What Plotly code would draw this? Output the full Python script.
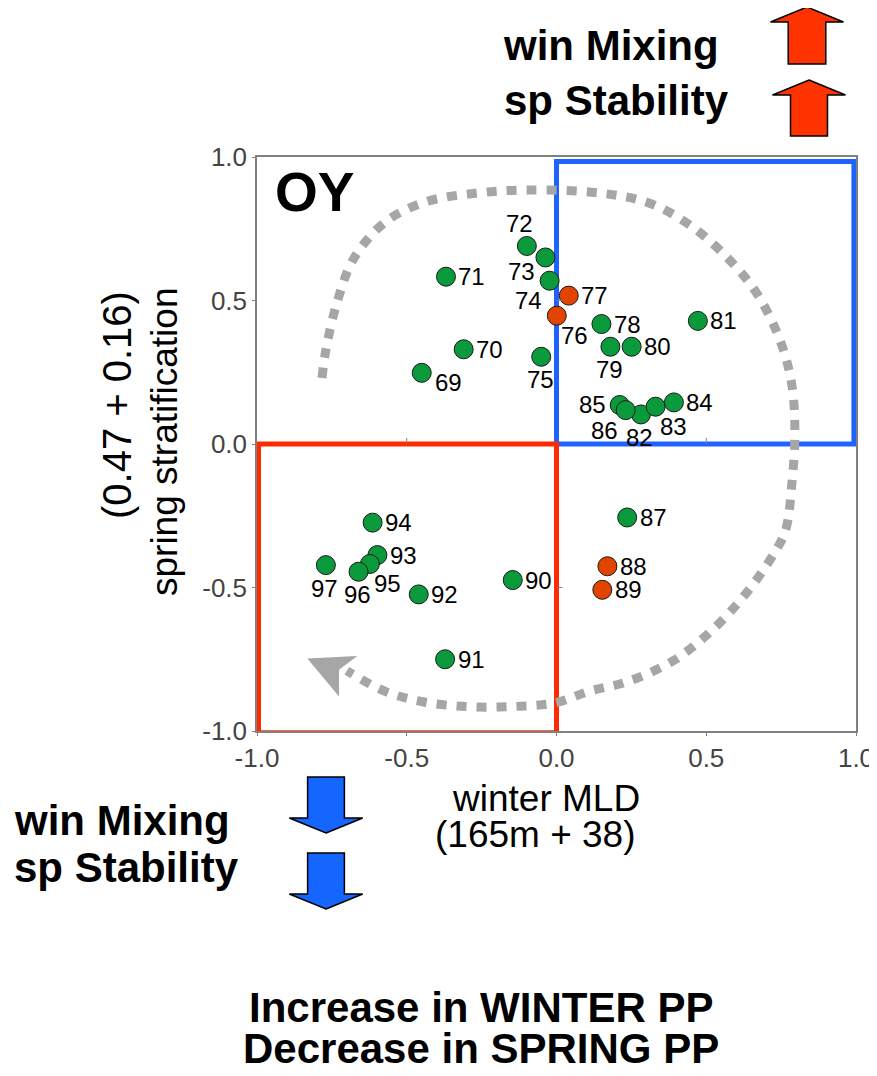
import plotly.graph_objects as go

# ---------------- data ----------------
years = [69, 70, 71, 72, 73, 74, 75, 76, 77, 78, 79, 80, 81, 82, 83, 84, 85, 86,
         87, 88, 89, 90, 91, 92, 93, 94, 95, 96, 97]
winter_mld = [-0.45, -0.31, -0.369, -0.099, -0.037, -0.023, -0.051, 0.001, 0.041,
              0.15, 0.18, 0.251, 0.472, 0.282, 0.331, 0.392, 0.211, 0.231,
              0.236, 0.17, 0.153, -0.146, -0.372, -0.46, -0.598, -0.614, -0.623,
              -0.661, -0.77]
spring_strat = [0.248, 0.33, 0.583, 0.69, 0.65, 0.569, 0.304, 0.447, 0.517,
                0.418, 0.339, 0.339, 0.429, 0.103, 0.13, 0.145, 0.136, 0.118,
                -0.256, -0.426, -0.508, -0.474, -0.75, -0.524, -0.387, -0.274,
                -0.418, -0.445, -0.422]
highlight_years = [76, 77, 88, 89]
label_side = ['r_lo', 'r', 'r', 'tl', 'l_lo', 'bl', 'b', 'br', 'r',
              'r', 'b', 'r', 'r', 'b', 'br', 'r', 'l', 'bl',
              'r', 'r', 'r', 'r', 'r', 'r', 'r', 'r', 'br', 'b', 'b']

x_ticks = [-1.0, -0.5, 0.0, 0.5, 1.0]
x_tick_text = ['-1.0', '-0.5', '0.0', '0.5', '1.0']
y_ticks = [-1.0, -0.5, 0.0, 0.5, 1.0]
y_tick_text = ['-1.0', '-0.5', '0.0', '0.5', '1.0']

# decorative cycle arrow (hand traced path, axis units)
cycle_x = [-0.783, -0.770, -0.732, -0.676, -0.570, -0.436, -0.269, -0.101, 0.149,
           0.311, 0.445, 0.567, 0.668, 0.746, 0.785, 0.796, 0.786, 0.765, 0.726,
           0.631, 0.518, 0.390, 0.234, 0.110, -0.001, -0.152, -0.302, -0.447,
           -0.570, -0.700]
cycle_y = [0.230, 0.328, 0.496, 0.648, 0.775, 0.844, 0.874, 0.885, 0.874,
           0.839, 0.763, 0.653, 0.526, 0.362, 0.211, 0.038, -0.136, -0.300, -0.382,
           -0.523, -0.650, -0.755, -0.829, -0.861, -0.901, -0.915, -0.915, -0.898,
           -0.863, -0.790]

FONT = "Liberation Sans, Arial, Helvetica, sans-serif"
GREEN = "#0A9A3C"
RED = "#E24400"

# ---------------- geometry helpers (page pixels -> paper) ----------------
OFF = 8                      # default body margin of the html page
FIG_W, FIG_H = 877 - OFF, 1076 - 2 * OFF
PLOT_L, PLOT_R, PLOT_T, PLOT_B = 257, 856, 157, 731   # plot area in page pixels
M_L, M_T = PLOT_L - OFF, PLOT_T - OFF
M_R = FIG_W - (PLOT_R - OFF)
M_B = FIG_H - (PLOT_B - OFF)
PW = PLOT_R - PLOT_L
PH = PLOT_B - PLOT_T


def px(x):
    return (x - PLOT_L) / PW


def py(y):
    return (PLOT_B - y) / PH


def poly_path(points):
    s = "M " + " L ".join(f"{px(a):.5f},{py(b):.5f}" for a, b in points)
    return s + " Z"


def block_arrow(cx, tip, base, end, head_half, shaft_half):
    return [(cx, tip), (cx + head_half, base), (cx + shaft_half, base),
            (cx + shaft_half, end), (cx - shaft_half, end),
            (cx - shaft_half, base), (cx - head_half, base)]


fig = go.Figure()

# cycle arrow (dotted)
fig.add_trace(go.Scatter(
    x=cycle_x, y=cycle_y, mode="lines",
    line=dict(color="#A6A6A6", width=9, dash="10px,10px", shape="spline", smoothing=1),
    hoverinfo="skip", showlegend=False))

# points
colors = [RED if yr in highlight_years else GREEN for yr in years]
fig.add_trace(go.Scatter(
    x=winter_mld, y=spring_strat, mode="markers",
    marker=dict(size=19, color=colors, line=dict(color="#1a1a1a", width=1)),
    text=[str(y) for y in years], hoverinfo="text", showlegend=False))

offsets = {'r': (26, 0), 'r_lo': (27, -10), 'tl': (-7, 22), 'l_lo': (-24, -14),
           'bl': (-21, -20), 'b': (-1, -23), 'br': (18, -20), 'l': (-27, 0)}
annotations = []
for yr, xv, yv, side in zip(years, winter_mld, spring_strat, label_side):
    dx, dy = offsets[side]
    annotations.append(dict(x=xv, y=yv, xref="x", yref="y", text=str(yr),
                            showarrow=False, xshift=dx, yshift=dy,
                            font=dict(family=FONT, size=24, color="#000")))


def txt(text, x, y, size, bold=False, xanchor="center", angle=0):
    t = f"<b>{text}</b>" if bold else text
    return dict(x=px(x), y=py(y), xref="paper", yref="paper", text=t,
                showarrow=False, xanchor=xanchor, yanchor="middle", textangle=angle,
                font=dict(family=FONT, size=size, color="#000"))


annotations += [
    txt("OY", 314, 192, 55, bold=True),
    txt("win Mixing", 501, 45, 42, bold=True, xanchor="left"),
    txt("sp Stability", 502, 101, 42, bold=True, xanchor="left"),
    txt("win Mixing", 12, 820, 42, bold=True, xanchor="left"),
    txt("sp Stability", 12, 867, 42, bold=True, xanchor="left"),
    txt("Increase in WINTER PP", 481, 1007, 42, bold=True),
    txt("Decrease in SPRING PP", 481, 1048, 42, bold=True),
    txt("winter MLD", 546, 798, 37),
    txt("(165m + 38)", 535, 834, 37),
    txt("(0.47 + 0.16)", 117, 405, 40, angle=-90),
    txt("spring stratification", 164, 442, 37, angle=-90),
]

shapes = [
    # blue quadrant box
    dict(type="rect", xref="x", yref="y", x0=0, x1=0.993, y0=0, y1=0.984,
         line=dict(color="#1F63FF", width=5), layer="below"),
    # red quadrant box
    dict(type="rect", xref="x", yref="y", x0=-0.995, x1=0, y0=-1.006, y1=0,
         line=dict(color="#FF2A00", width=5), layer="below"),
    # arrowhead of cycle
    dict(type="path", xref="x", yref="y",
         path="M -0.832,-0.747 L -0.665,-0.739 L -0.726,-0.787 L -0.726,-0.880 Z",
         fillcolor="#A6A6A6", line=dict(width=0)),
]
# small ticks on the zero axes
for v in (-0.5, 0.5):
    shapes.append(dict(type="line", xref="x", yref="y", ysizemode="pixel", yanchor=0,
                       x0=v, x1=v, y0=0, y1=6, line=dict(color="#808080", width=1)))
    shapes.append(dict(type="line", xref="x", yref="y", xsizemode="pixel", xanchor=0,
                       x0=0, x1=6, y0=v, y1=v, line=dict(color="#808080", width=1)))

# block arrows outside the plot
for pts, col in [
    (block_arrow(807, 7, 22, 64, 36.5, 18.8), "#FF3300"),
    (block_arrow(809, 80, 95, 136, 36.5, 18.5), "#FF3300"),
    (block_arrow(326, 833, 818, 777, 36.7, 18.4), "#1565FF"),
    (block_arrow(326, 909, 894, 853, 36.7, 18.4), "#1565FF"),
]:
    shapes.append(dict(type="path", xref="paper", yref="paper", path=poly_path(pts),
                       fillcolor=col, line=dict(color="#000", width=1.5), layer="above"))

axis_common = dict(range=[-1, 1], showgrid=False, zeroline=False, showline=True,
                   linecolor="#808080", linewidth=1.5, mirror=True, ticks="outside",
                   ticklen=3, tickcolor="#808080", automargin=False,
                   tickfont=dict(family=FONT, size=26, color="#444"))

fig.update_layout(
    width=FIG_W, height=FIG_H,
    margin=dict(l=M_L, r=M_R, t=M_T, b=M_B),
    plot_bgcolor="white", paper_bgcolor="white",
    showlegend=False,
    xaxis=dict(tickvals=x_ticks, ticktext=x_tick_text, **axis_common),
    yaxis=dict(tickvals=y_ticks, ticktext=y_tick_text, **axis_common),
    annotations=annotations,
    shapes=shapes,
)

fig.write_html("out.html")
